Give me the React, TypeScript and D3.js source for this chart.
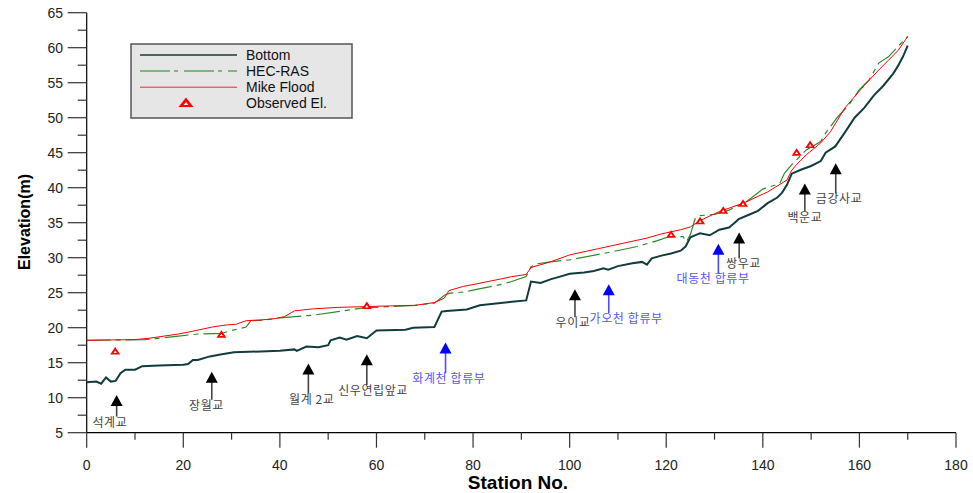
import React from 'react';
import * as d3 from 'd3';

// bed profile (station, elevation)
const bottomSt = [0, 2, 3, 4, 5, 6, 7, 8, 10, 11.5, 15, 20, 21, 22, 23, 25.5, 28, 30.5, 36, 40, 43, 43.5, 45.5, 48, 50, 50.5, 52.4, 53.8, 56, 58, 60, 66, 67.6, 72, 73.5, 74.5, 78.7, 81.4, 88, 91, 92, 94, 96, 98, 100, 103, 105, 107, 108, 110, 113, 115, 116, 117, 119, 121, 123, 124, 125, 127, 129, 131, 133, 134, 135, 137, 139, 141, 143, 144, 145, 146, 148, 150, 152, 153, 155, 157, 159, 161, 163, 165, 167, 168, 169, 170];
const bottomEl = [12.2, 12.3, 12.0, 12.9, 12.3, 12.4, 13.5, 14.0, 14.0, 14.5, 14.6, 14.7, 14.8, 15.4, 15.4, 15.9, 16.2, 16.5, 16.6, 16.7, 16.9, 16.7, 17.3, 17.2, 17.5, 18.2, 18.6, 18.3, 18.8, 18.5, 19.6, 19.7, 20.0, 20.1, 22.3, 22.4, 22.6, 23.2, 23.7, 23.9, 26.6, 26.4, 26.9, 27.3, 27.7, 27.9, 28.1, 28.5, 28.3, 28.8, 29.2, 29.4, 29.0, 29.9, 30.3, 30.6, 31.0, 31.6, 32.9, 33.5, 33.2, 34.0, 34.3, 34.9, 35.5, 36.1, 36.7, 37.8, 38.6, 39.3, 40.4, 42.0, 42.6, 43.1, 43.8, 45.0, 45.9, 47.9, 50.0, 51.4, 53.2, 54.6, 56.3, 57.4, 58.7, 60.3];

// HEC-RAS water surface
const hecSt = [0, 12, 19, 23, 28, 30, 33, 34, 37, 40, 47, 52, 57, 62, 68, 72, 74, 75, 78, 81, 86, 88, 91, 92, 93, 96, 100, 107, 114, 118, 121, 123.5, 124.2, 125, 126, 127, 130, 133, 136.6, 140, 143.5, 144.5, 146, 149, 152, 153, 155.5, 158, 160, 162, 164, 166, 169, 170];
const hecEl = [18.2, 18.3, 18.8, 19.1, 19.2, 19.6, 20.1, 21.0, 21.1, 21.4, 21.8, 22.3, 22.8, 23.0, 23.2, 23.5, 24.6, 24.9, 25.1, 25.5, 26.2, 26.6, 27.3, 28.7, 29.1, 29.4, 29.7, 30.6, 31.6, 32.4, 33.1, 33.0, 32.3, 33.3, 35.6, 36.0, 36.2, 36.8, 38.0, 39.8, 40.6, 42.1, 43.3, 45.4, 46.6, 47.8, 50.1, 52.0, 54.0, 55.4, 57.8, 58.7, 60.9, 61.6];

// Mike Flood water surface
const mikeSt = [0, 10, 13, 16, 19, 22, 26, 29, 31, 33, 36, 39, 41, 43, 47, 52, 57, 62, 68, 72, 74, 75, 78, 81, 86, 88, 91, 92, 96, 100, 106, 112, 116, 119, 123, 125, 127, 131, 136, 141, 145, 146, 147, 149, 152, 154, 157, 161, 164, 168, 170];
const mikeEl = [18.2, 18.3, 18.5, 18.8, 19.1, 19.5, 20.1, 20.4, 20.5, 21.0, 21.1, 21.3, 21.6, 22.4, 22.7, 22.9, 23.0, 23.1, 23.2, 23.6, 24.2, 25.3, 25.9, 26.3, 27.0, 27.3, 27.6, 28.6, 29.4, 30.4, 31.3, 32.2, 32.8, 33.4, 34.0, 34.4, 35.3, 36.6, 37.8, 39.4, 41.1, 42.5, 43.3, 44.7, 46.4, 48.0, 51.4, 54.6, 56.8, 59.6, 61.6];

// observed elevations
const obsSt = [5.9, 27.9, 58, 121, 127, 131.8, 135.9, 147, 149.8];
const obsEl = [16.7, 19.1, 23.2, 33.4, 35.3, 36.8, 37.8, 45.1, 46.2];

// annotations: bridges (black) and confluences (blue)
const annNames = ['석계교', '장월교', '월계 2교', '신우연립앞교', '화계천 합류부', '우이교', '가오천 합류부', '대동천 합류부', '쌍우교', '백운교', '금강사교'];
const annKind = ['b', 'b', 'b', 'b', 'c', 'b', 'c', 'c', 'b', 'b', 'b'];
const annSt = [6.2, 25.9, 45.9, 58.0, 74.3, 101.1, 108.1, 130.8, 135.1, 148.7, 155.1];
const annTip = [10.4, 13.7, 14.9, 16.2, 17.9, 25.5, 26.2, 32.0, 33.6, 40.6, 43.5];
const annBase = [7.3, 9.7, 10.6, 11.8, 13.5, 21.5, 22.1, 27.8, 29.9, 36.6, 39.2];
const annLabelSt = [4.8, 24.8, 46.6, 59.3, 75.0, 100.7, 111.7, 129.7, 136.0, 148.7, 155.8];

const xTicks = [0, 20, 40, 60, 80, 100, 120, 140, 160, 180];
const yTicks = [5, 10, 15, 20, 25, 30, 35, 40, 45, 50, 55, 60, 65];

const W = 973;
const H = 493;
const narrow = '"Liberation Sans Narrow", "Arial Narrow", "Liberation Sans", Arial, sans-serif';
const sans = '"Liberation Sans", Arial, sans-serif';
const kr = '"Noto Sans CJK KR", sans-serif';

// red triangle with a small white slot, w wide, h tall, centred on cx,cy
function Marker({ cx, cy, w, h }: { cx: number; cy: number; w: number; h: number }) {
  const p = (k: number) =>
    `M${cx},${cy - (h / 2) * k}L${cx + (w / 2) * k},${cy + (h / 2) * k}L${cx - (w / 2) * k},${cy + (h / 2) * k}Z`;
  return (
    <g>
      <path d={p(1)} fill="#ff0000" />
      <path d={p(0.32)} transform={`translate(0,${h * 0.12})`} fill="#fff" />
    </g>
  );
}

export default function App() {
  const x = d3.scaleLinear().domain([0, 180]).range([86.7, 956]);
  const y = d3.scaleLinear().domain([5, 65]).range([432.7, 12.7]);

  const line = d3.line<number[]>().x(d => x(d[0])).y(d => y(d[1]));
  const bottom = bottomSt.map((s, i) => [s, bottomEl[i]]);
  const hec = hecSt.map((s, i) => [s, hecEl[i]]);
  const mike = mikeSt.map((s, i) => [s, mikeEl[i]]);

  const minorX = d3.range(0, 181, 10).filter(v => v % 20 !== 0);
  const minorY = d3.range(7.5, 65, 5);

  const legendItems = ['Bottom', 'HEC-RAS', 'Mike Flood', 'Observed El.'];

  return (
    <svg width={W} height={H} style={{ position: 'absolute', left: 0, top: 0, background: '#fff' }}>
      {/* y axis */}
      <line x1={x(0)} x2={x(0)} y1={y(65)} y2={y(5)} stroke="#000" strokeWidth={1.2} />
      {yTicks.map(t => (
        <g key={'y' + t}>
          <line x1={x(0) - 19} x2={x(0)} y1={y(t)} y2={y(t)} stroke="#333" strokeWidth={1.2} />
          <text x={63} y={y(t) + 5} textAnchor="end" fontFamily={sans} fontSize={14} fill="#222">{t}</text>
        </g>
      ))}
      {minorY.map(t => (
        <line key={'my' + t} x1={x(0) - 9} x2={x(0)} y1={y(t)} y2={y(t)} stroke="#333" strokeWidth={1.2} />
      ))}

      {/* x axis */}
      <line x1={x(0)} x2={x(180)} y1={y(5)} y2={y(5)} stroke="#000" strokeWidth={1.2} />
      {xTicks.map(t => (
        <g key={'x' + t}>
          <line x1={x(t)} x2={x(t)} y1={y(5)} y2={y(5) + 15} stroke="#333" strokeWidth={1.2} />
          <text x={x(t)} y={470} textAnchor="middle" fontFamily={narrow} fontSize={14} fill="#222">{t}</text>
        </g>
      ))}
      {minorX.map(t => (
        <line key={'mx' + t} x1={x(t)} x2={x(t)} y1={y(5)} y2={y(5) + 7} stroke="#333" strokeWidth={1.2} />
      ))}

      <text x={518} y={489} textAnchor="middle" fontFamily={narrow} fontWeight="bold" fontSize={19} fill="#000">Station No.</text>
      <text transform="translate(30,222) rotate(-90)" textAnchor="middle" fontFamily={sans} fontWeight="bold" fontSize={16} fill="#000">Elevation(m)</text>

      {/* series */}
      <path d={line(bottom) || ''} fill="none" stroke="#123c3c" strokeWidth={2} />
      <path d={line(hec) || ''} fill="none" stroke="#2a8a2a" strokeWidth={1.2} strokeDasharray="24,5,5,5" />
      <path d={line(mike) || ''} fill="none" stroke="#ff0000" strokeWidth={1} />
      {obsSt.map((s, i) => (
        <Marker key={'o' + i} cx={x(s)} cy={y(obsEl[i])} w={10} h={7.5} />
      ))}

      {/* annotations */}
      {annNames.map((name, i) => {
        const ax = x(annSt[i]);
        const tipY = y(annTip[i]);
        const baseY = y(annBase[i]);
        const blue = annKind[i] === 'c';
        return (
          <g key={'a' + i}>
            <line x1={ax} x2={ax} y1={tipY + 8} y2={baseY} stroke={blue ? '#4d4dff' : '#444'} strokeWidth={1.6} />
            <path d={`M${ax},${tipY}L${ax + 6},${tipY + 11}L${ax - 6},${tipY + 11}Z`} fill={blue ? '#0000ff' : '#000'} />
            <text x={x(annLabelSt[i])} y={baseY + 10} textAnchor="middle" fontFamily={kr} fontSize={12}
              letterSpacing={0.6} fill={blue ? '#5555ff' : '#444'}>{name}</text>
          </g>
        );
      })}

      {/* legend */}
      <rect x={131} y={44} width={221} height={74} fill="#e6e6e6" stroke="#555" strokeWidth={1.5} />
      {legendItems.map((name, i) => {
        const ly = 55 + i * 16.1;
        return (
          <g key={'l' + i}>
            {i === 0 && <line x1={140} x2={237} y1={ly} y2={ly} stroke="#123c3c" strokeWidth={1.5} />}
            {i === 1 && <line x1={140} x2={237} y1={ly} y2={ly} stroke="#55aa55" strokeWidth={1.5} strokeDasharray="30,4,4,6" />}
            {i === 2 && <line x1={140} x2={237} y1={ly} y2={ly} stroke="#ff2020" strokeWidth={1} />}
            {i === 3 && <Marker cx={186} cy={ly - 1} w={15} h={9.5} />}
            <text x={246} y={ly + 5} fontFamily={sans} fontSize={14} fill="#111">{name}</text>
          </g>
        );
      })}
    </svg>
  );
}
